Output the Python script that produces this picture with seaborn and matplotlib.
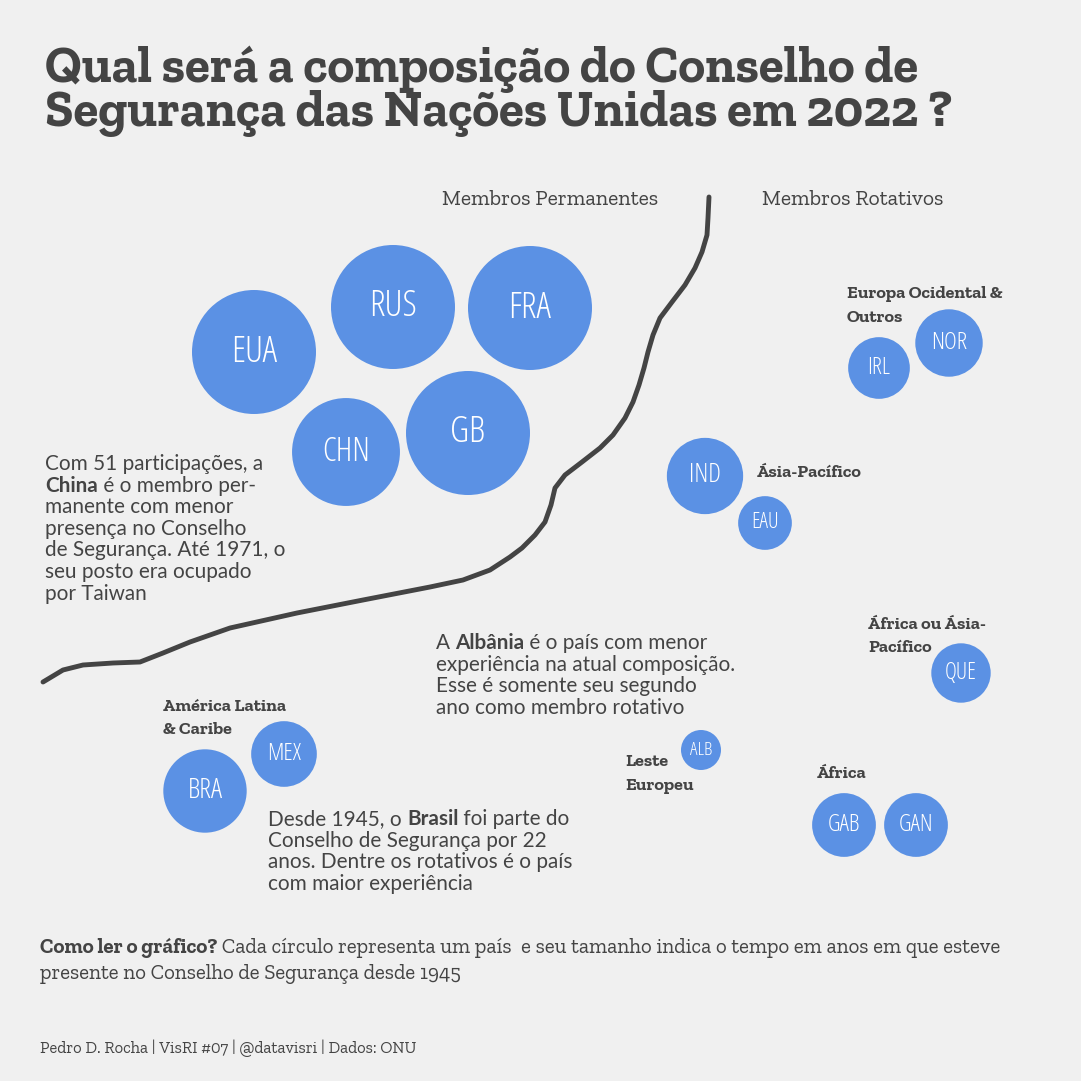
import numpy as np
import pandas as pd
import matplotlib
matplotlib.use("Agg")
import matplotlib.pyplot as plt
import seaborn as sns

# ---------------- data ----------------
paises = ["EUA", "RUS", "FRA", "GB", "CHN", "IRL", "NOR", "IND", "EAU", "QUE",
          "ALB", "GAB", "GAN", "MEX", "BRA"]
anos = [77, 77, 77, 77, 51, 7, 10, 16, 4, 6, 2, 8, 8, 9, 22]
pos_x = [254, 393, 530, 468, 346, 879, 949, 705, 765, 961, 701, 844, 916, 284, 205]
pos_y = [352, 307, 308, 433, 452, 368, 343, 476, 523, 673, 750, 825, 825, 754, 791]

curva_x = [709, 708, 707, 702, 695, 685, 672, 660, 653, 648, 644, 639, 633, 625,
           613, 600, 582, 565, 555, 551, 545, 535, 522, 510, 490, 463, 430, 363,
           297, 230, 190, 163, 140, 113, 83, 63, 43]
curva_y = [197, 218, 235, 252, 268, 285, 302, 318, 335, 352, 368, 385, 402, 418,
           435, 448, 462, 475, 488, 505, 522, 535, 548, 557, 570, 580, 587, 600,
           613, 628, 642, 653, 662, 663, 665, 670, 682]

regioes = [["Europa Ocidental &", "Outros"], ["Ásia-Pacífico"],
           ["África ou Ásia-", "Pacífico"], ["América Latina", "& Caribe"],
           ["Leste", "Europeu"], ["África"]]
regioes_x = [847, 757, 868, 163, 625, 817]
regioes_y = [298, 477, 629, 711, 766, 778]

BG = "#f0f0f0"
CIRC = "#5b91e4"
TXT = "#444444"

sns.set_theme(style="white")
plt.rcParams["font.family"] = ["Lato", "DejaVu Sans"]

df = pd.DataFrame({"pais": paises, "anos": anos, "x": pos_x, "y": pos_y})

DPI = 100
vmin, vmax = min(anos), max(anos)


def raio_px(v):
    return 20 + 42 * np.sqrt((v - vmin) / (vmax - vmin))


size_map = {v: (2 * raio_px(v) * 72 / DPI) ** 2 for v in sorted(set(anos))}

fig = plt.figure(figsize=(10.81, 10.81), dpi=DPI, facecolor=BG)
ax = fig.add_axes([0, 0, 1, 1])
ax.set_facecolor(BG)

sns.scatterplot(data=df, x="x", y="y", size="anos", sizes=size_map, color=CIRC,
                linewidth=0, legend=False, ax=ax, zorder=3)
sns.lineplot(x=curva_x, y=curva_y, sort=False, color=TXT, linewidth=3.5,
             ax=ax, zorder=2, estimator=None)
for ln in ax.lines:
    ln.set_solid_capstyle("round")
    ln.set_solid_joinstyle("round")

ax.set_xlim(0, 1081)
ax.set_ylim(1081, 0)
ax.axis("off")

fig.canvas.draw()
renderer = fig.canvas.get_renderer()


def largura(txt, **kw):
    t = ax.text(0, 0, txt, **kw)
    w = t.get_window_extent(renderer).width
    t.remove()
    return w


def ajusta(txt, alvo, **kw):
    kw = dict(kw)
    kw["fontsize"] = 20
    return 20 * alvo / largura(txt, **kw)


SLAB = ["Zilla Slab", "DejaVu Serif"]
COND = dict(family=["Open Sans", "DejaVu Sans"], fontstretch="condensed", weight=300)

for p, v, x, y in zip(paises, anos, pos_x, pos_y):
    r = raio_px(v)
    ax.text(x, y, p, color="white", ha="center", va="center",
            fontsize=0.3 * r + 7.5, zorder=4, **COND)

# title
fs_t = ajusta("Qual será a composição do Conselho de", 873, family=SLAB, weight="bold")
ax.text(45, 82, "Qual será a composição do Conselho de", family=SLAB,
        weight="bold", fontsize=fs_t, color=TXT, va="baseline")
ax.text(45, 126, "Segurança das Nações Unidas em 2022 ?", family=SLAB,
        weight="bold", fontsize=fs_t, color=TXT, va="baseline")

ax.text(550, 205, "Membros Permanentes", family=SLAB, fontsize=15.5, color=TXT,
        va="baseline", ha="center")
ax.text(853, 205, "Membros Rotativos", family=SLAB, fontsize=15.5, color=TXT,
        va="baseline", ha="center")

for linhas, x, y in zip(regioes, regioes_x, regioes_y):
    for i, t in enumerate(linhas):
        ax.text(x, y + 23.5 * i, t, family=SLAB, weight="bold", fontsize=13,
                color=TXT, va="baseline")


def linha_rica(x, y, segs, fs, fam):
    cx = x
    for s, w in segs:
        kw = dict(fontsize=fs, family=fam, weight=w, color=TXT, va="baseline")
        ax.text(cx, y, s, **kw)
        sp = largura("a a", **kw) - largura("aa", **kw)
        n_trail = len(s) - len(s.rstrip(" "))
        cx += largura(s.strip(" "), **kw) + sp * n_trail
        if s.startswith(" "):
            cx += sp


BODY = ["Lato", "DejaVu Sans"]
FS = ajusta("Com 51 participações, a", 218, family=BODY)


def bloco(x, y0, linhas, dy=21.6):
    for i, segs in enumerate(linhas):
        linha_rica(x, y0 + i * dy, segs, FS, BODY)


N, B = "normal", "bold"
bloco(45, 470, [
    [("Com 51 participações, a", N)],
    [("China", B), (" é o membro per-", N)],
    [("manente com menor", N)],
    [("presença no Conselho", N)],
    [("de Segurança. Até 1971, o", N)],
    [("seu posto era ocupado", N)],
    [("por Taiwan", N)],
])
bloco(436, 649, [
    [("A ", N), ("Albânia", B), (" é o país com menor", N)],
    [("experiência na atual composição.", N)],
    [("Esse é somente seu segundo", N)],
    [("ano como membro rotativo", N)],
])
bloco(268, 825, [
    [("Desde 1945, o ", N), ("Brasil", B), (" foi parte do", N)],
    [("Conselho de Segurança por 22", N)],
    [("anos. Dentre os rotativos é o país", N)],
    [("com maior experiência", N)],
])

nota1 = [("Como ler o gráfico?", B),
         (" Cada círculo representa um país  e seu tamanho indica o tempo em anos em que esteve", N)]
fs_n = ajusta("Como ler o gráfico? Cada círculo representa um país  e seu tamanho indica o tempo em anos em que esteve",
              955, family=SLAB)
linha_rica(40, 953, nota1, fs_n, SLAB)
linha_rica(40, 979, [("presente no Conselho de Segurança desde 1945", N)], fs_n, SLAB)
cred = "Pedro D. Rocha | VisRI #07 | @datavisri | Dados: ONU"
linha_rica(40, 1053, [(cred, N)], ajusta(cred, 376, family=SLAB), SLAB)

fig.savefig("out.png", dpi=DPI, facecolor=BG)
